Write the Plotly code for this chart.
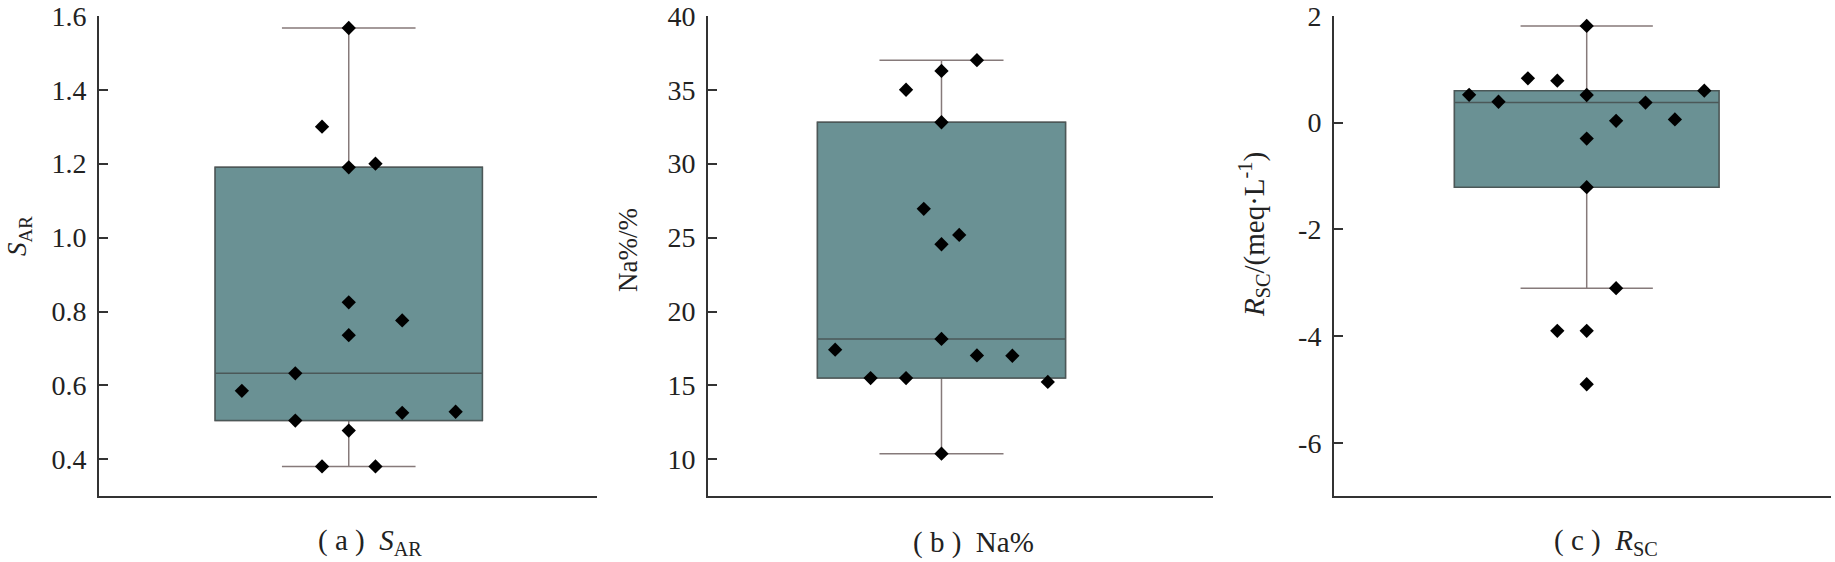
import math
import plotly.graph_objects as go

# ---------------- data ----------------
sar_values = [0.381, 0.381, 0.5855, 0.505, 0.478, 0.526, 0.529, 0.633, 0.736,
              0.776, 0.825, 1.19, 1.30, 1.20, 1.567]
na_values = [10.39, 17.42, 15.5, 15.5, 18.15, 17.03, 17.01, 15.24, 24.55,
             26.95, 25.18, 32.8, 35.0, 36.27, 37.0]
rsc_values = [1.81, 0.52, 0.39, 0.83, 0.785, 0.517, 0.034, 0.375, 0.06, 0.597,
              -0.30, -1.21, -3.90, -3.90, -3.10, -4.90]

# box statistics as drawn in the reference: SAR, Na%, RSC
box_q1 = [0.505, 15.5, -1.21]
box_median = [0.633, 18.15, 0.375]
box_q3 = [1.19, 32.8, 0.597]
box_lower = [0.381, 10.39, -3.10]
box_upper = [1.567, 37.0, 1.81]

tick_vals = [[0.4, 0.6, 0.8, 1.0, 1.2, 1.4, 1.6],
             [10, 15, 20, 25, 30, 35, 40],
             [-6, -4, -2, 0, 2]]
tick_text = [["0.4", "0.6", "0.8", "1.0", "1.2", "1.4", "1.6"],
             ["10", "15", "20", "25", "30", "35", "40"],
             ["-6", "-4", "-2", "0", "2"]]
y_titles = ["<i>S</i><sub>AR</sub>", "Na%/%",
            "<i>R</i><sub>SC</sub>/(meq·L<sup>-1</sup>)"]
captions = ["( a )  <i>S</i><sub>AR</sub>", "( b )  Na%",
            "( c )  <i>R</i><sub>SC</sub>"]

# ---------------- style / layout ----------------
W, H = 1835, 562
y_ranges = [[0.3, 1.6], [7.5, 40], [-7, 2]]
x_ranges = [[-1.0, 0.994], [-1.007, 1.171], [-1.022, 0.988]]
bin_widths = [0.2, 5, 1]
box_widths = [1.07, 1.07, 1.07]
x_domains_px = [(99, 597), (708, 1213), (1334, 1831)]
y_domain = [1 - 496.4 / H, 1 - 15.8 / H]
title_pos_px = [(19, 236), (628, 250), (1254, 235)]
title_sizes = [27, 27, 29]
caption_pos_px = [(370, 542), (974, 542), (1606, 542)]
FILL = "#6a9194"
BOX_LINE = "#4b5858"
WHISKER = "#867a7a"
AXIS = "#333333"
SERIF = "Liberation Serif"


def swarm_offsets(vals, bw, width):
    keys = [math.floor(v / bw + 1e-9) for v in vals]
    groups = {}
    for i, k in enumerate(keys):
        groups.setdefault(k, []).append(i)
    nmax = max(len(g) for g in groups.values())
    step = width / nmax
    xs = [0.0] * len(vals)
    for g in groups.values():
        n = len(g)
        for j, i in enumerate(g):
            xs[i] = (j - (n - 1) / 2) * step
    return xs


fig = go.Figure()
all_values = [sar_values, na_values, rsc_values]

for i in range(3):
    xa = "x" if i == 0 else f"x{i+1}"
    ya = "y" if i == 0 else f"y{i+1}"
    bw = box_widths[i]
    # whiskers layer
    fig.add_trace(go.Box(
        x=[0], q1=[box_q1[i]], median=[box_median[i]], q3=[box_q3[i]],
        lowerfence=[box_lower[i]], upperfence=[box_upper[i]],
        width=bw, whiskerwidth=0.5, fillcolor=FILL,
        line=dict(color=WHISKER, width=1.5), boxpoints=False,
        showlegend=False, hoverinfo="skip", xaxis=xa, yaxis=ya))
    # box layer
    fig.add_trace(go.Box(
        x=[0], q1=[box_q1[i]], median=[box_median[i]], q3=[box_q3[i]],
        lowerfence=[box_q1[i]], upperfence=[box_q3[i]],
        width=bw, whiskerwidth=0, fillcolor=FILL,
        line=dict(color=BOX_LINE, width=1.5), boxpoints=False,
        showlegend=False, hoverinfo="skip", xaxis=xa, yaxis=ya))
    # points
    xs = swarm_offsets(all_values[i], bin_widths[i], bw)
    fig.add_trace(go.Scatter(
        x=xs, y=all_values[i], mode="markers",
        marker=dict(symbol="diamond", size=11, color="black"),
        showlegend=False, xaxis=xa, yaxis=ya))

layout = dict(
    width=W, height=H, autosize=False,
    margin=dict(l=0, r=0, t=0, b=0, autoexpand=False),
    paper_bgcolor="white", plot_bgcolor="white",
    boxmode="overlay", showlegend=False,
    font=dict(family=SERIF, color="#222222"),
)
for i in range(3):
    xk = "xaxis" if i == 0 else f"xaxis{i+1}"
    yk = "yaxis" if i == 0 else f"yaxis{i+1}"
    x0, x1 = x_domains_px[i]
    layout[xk] = dict(
        domain=[x0 / W, x1 / W], range=x_ranges[i], showline=True,
        linecolor=AXIS, linewidth=2, showticklabels=False, ticks="",
        showgrid=False, zeroline=False, automargin=False,
        anchor="y" if i == 0 else f"y{i+1}")
    layout[yk] = dict(
        domain=y_domain, range=y_ranges[i], showline=True, linecolor=AXIS,
        linewidth=2, ticks="inside", ticklen=9, tickwidth=1.5,
        tickcolor=AXIS, tickvals=tick_vals[i], ticktext=tick_text[i],
        tickfont=dict(family=SERIF, size=28, color="#222222"),
        ticklabelstandoff=5, automargin=False,
        showgrid=False, zeroline=False,
        anchor="x" if i == 0 else f"x{i+1}")
fig.update_layout(**layout)

for i in range(3):
    tx, ty = title_pos_px[i]
    fig.add_annotation(
        text=y_titles[i], xref="paper", yref="paper", x=tx / W, y=1 - ty / H,
        xanchor="center", yanchor="middle", textangle=-90, showarrow=False,
        font=dict(family=SERIF, size=title_sizes[i], color="#222222"))
    cx, cy = caption_pos_px[i]
    fig.add_annotation(
        text=captions[i], xref="paper", yref="paper", x=cx / W, y=1 - cy / H,
        xanchor="center", yanchor="middle", showarrow=False,
        font=dict(family=SERIF, size=29, color="#222222"))

fig.write_html("out.html",
               config={"displayModeBar": False},
               post_script="document.body.style.margin='0px';"
                           "document.body.style.overflow='hidden';")
